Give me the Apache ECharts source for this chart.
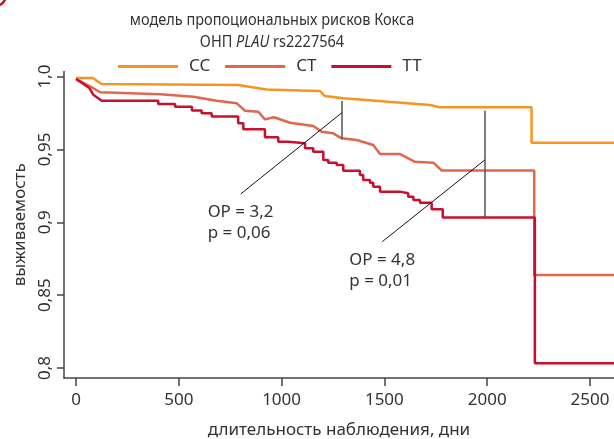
<!DOCTYPE html>
<html lang="ru">
<head>
<meta charset="UTF-8" />
<title>модель пропоциональных рисков Кокса</title>
<script src="https://cdn.jsdelivr.net/npm/echarts@6/dist/echarts.min.js"></script>
<style>
  html, body { margin: 0; padding: 0; background: #fff; }
  #survivalChart { width: 614px; height: 439px; }
</style>
</head>
<body>
<div id="survivalChart"></div>
<script>
  // значения: день наблюдения / выживаемость
  var ccDays = [0, 81, 125, 788, 927, 1089, 1187, 1211, 1300, 1722, 1770, 2216, 2216, 2617];
  var ccSurv = [0.999, 0.999, 0.9949, 0.9942, 0.9911, 0.9904, 0.9900, 0.9866, 0.9850, 0.9805, 0.9789, 0.9789, 0.9546, 0.9546];

  var ctDays = [0, 68, 117, 409, 571, 684, 782, 822, 887, 919, 963, 1041, 1154, 1195, 1251, 1292, 1365, 1446, 1479, 1576, 1649, 1738, 1779, 2229, 2229, 2617];
  var ctSurv = [0.9983, 0.9933, 0.9892, 0.9878, 0.9861, 0.9834, 0.9816, 0.9765, 0.9758, 0.9706, 0.9720, 0.9683, 0.9660, 0.9621, 0.9610, 0.9576, 0.9564, 0.9530, 0.9468, 0.9468, 0.9415, 0.9409, 0.9355, 0.9355, 0.8638, 0.8638];

  // TT - ступенчатая кривая (значение после каждого события), начало - плавное
  var ttDays = [0, 65, 84, 125, 400, 482, 564, 611, 660, 789, 814, 919, 984, 1033, 1114, 1154, 1203, 1227, 1268, 1300, 1381, 1397, 1430, 1446, 1479, 1576, 1616, 1641, 1673, 1730, 1784, 2232, 2617];
  var ttSurv = [0.9983, 0.9921, 0.9875, 0.9834, 0.9811, 0.9793, 0.9767, 0.9748, 0.9726, 0.9679, 0.9638, 0.9583, 0.9553, 0.9542, 0.9507, 0.9484, 0.9427, 0.9409, 0.9393, 0.9354, 0.9324, 0.9290, 0.9271, 0.9244, 0.9210, 0.9199, 0.9175, 0.9153, 0.9134, 0.9089, 0.9033, 0.8032, 0.8032];
  var ttSmoothCount = 4;

  var seriesNames = ['CC', 'CT', 'TT'];
  var seriesColors = ['#f7941d', '#e0674c', '#c8102e'];

  var xTicks = [0, 500, 1000, 1500, 2000, 2500];
  var yTicks = [0.8, 0.85, 0.9, 0.95, 1.0];
  var yTickLabels = ['0,8', '0,85', '0,9', '0,95', '1,0'];

  // отношение рисков: вертикаль [день, от, до], выноска [день1, S1, день2, S2]
  var orVertical = [[1294, 0.9832, 0.9569], [1988, 0.9765, 0.9034]];
  var orDiagonal = [[801, 0.9194, 1294, 0.9752], [1490, 0.8867, 1988, 0.9427]];
  var orLabels = ['ОР = 3,2\np = 0,06', 'ОР = 4,8\np = 0,01'];

  var fontName = '"Noto Sans", sans-serif';
  var textColor = '#333333';

  function pairs(days, surv) {
    var out = [];
    for (var i = 0; i < days.length; i++) out.push([days[i], surv[i]]);
    return out;
  }

  // ступеньки: перед каждым событием держим прежнее значение
  function stepPairs(days, surv, smooth) {
    var out = [];
    for (var i = 0; i < days.length; i++) {
      if (i >= smooth) out.push([days[i], surv[i - 1]]);
      out.push([days[i], surv[i]]);
    }
    return out;
  }

  var chartEl = document.getElementById('survivalChart');
  var chart = echarts.init(chartEl);

  var markData = [];
  orVertical.forEach(function (v) {
    markData.push([
      { coord: [v[0], v[1]], lineStyle: { color: '#555555', width: 1.5, type: 'solid' } },
      { coord: [v[0], v[2]] }
    ]);
  });
  orDiagonal.forEach(function (d) {
    markData.push([
      { coord: [d[0], d[1]], lineStyle: { color: '#111111', width: 1, type: 'solid' } },
      { coord: [d[2], d[3]] }
    ]);
  });

  var curves = [pairs(ccDays, ccSurv), pairs(ctDays, ctSurv), stepPairs(ttDays, ttSurv, ttSmoothCount)];
  var lineSeries = curves.map(function (data, i) {
    return {
      name: seriesNames[i],
      type: 'line',
      data: data,
      symbol: 'none',
      lineStyle: { width: 2.5, color: seriesColors[i] },
      itemStyle: { color: seriesColors[i] },
      z: 2 + i
    };
  });

  lineSeries.push({
    name: 'annot',
    type: 'line',
    data: [],
    symbol: 'none',
    z: 10,
    markLine: {
      silent: true,
      symbol: 'none',
      animation: false,
      label: { show: false },
      data: markData
    }
  });

  var chartOption = {
    animation: false,
    grid: { left: 64, right: 0, top: 71.5, bottom: 61, containLabel: false, outerBoundsMode: 'none' },
    legend: {
      data: seriesNames,
      left: 113,
      top: 53,
      icon: 'rect',
      itemWidth: 60,
      itemHeight: 3,
      itemGap: 15,
      selectedMode: false,
      textStyle: { color: textColor, fontSize: 17, fontFamily: fontName, padding: [0, 0, 0, 6] }
    },
    xAxis: {
      type: 'value',
      min: -58.4,
      max: 2617,
      name: 'длительность наблюдения, дни',
      nameLocation: 'middle',
      nameGap: 44,
      nameTextStyle: { color: textColor, fontSize: 17, fontFamily: fontName },
      axisLine: { show: true, onZero: false, lineStyle: { color: '#444', width: 1.5 } },
      axisTick: { show: true, length: 8, customValues: xTicks, lineStyle: { color: '#444', width: 1.5 } },
      axisLabel: {
        customValues: xTicks,
        color: textColor,
        fontSize: 17,
        fontFamily: fontName,
        margin: 14,
        formatter: function (val) { return String(val); }
      },
      splitLine: { show: false }
    },
    yAxis: {
      type: 'value',
      min: 0.79314,
      max: 1.00343,
      name: 'выживаемость',
      nameLocation: 'middle',
      nameGap: 34,
      nameTextStyle: { color: textColor, fontSize: 17, fontFamily: fontName },
      axisLine: { show: true, onZero: false, lineStyle: { color: '#444', width: 1.5 } },
      axisTick: { show: true, length: 7, customValues: yTicks, lineStyle: { color: '#444', width: 1.5 } },
      axisLabel: {
        customValues: yTicks,
        rotate: 90,
        color: textColor,
        fontSize: 17,
        fontFamily: fontName,
        margin: 10,
        formatter: function (val) {
          for (var i = 0; i < yTicks.length; i++) {
            if (Math.abs(yTicks[i] - val) < 1e-6) return yTickLabels[i];
          }
          return '';
        }
      },
      splitLine: { show: false }
    },
    series: lineSeries
  };

  chart.setOption(chartOption);

  // подписи: заголовок, метки ОР, угол панели
  var graphics = [
    {
      type: 'text',
      x: 272,
      y: 20,
      scaleX: 0.88,
      style: {
        text: '{a|модель пропоциональных рисков Кокса}',
        align: 'center',
        verticalAlign: 'middle',
        rich: { a: { fontSize: 16.5, fontFamily: fontName, fill: textColor } }
      }
    },
    {
      type: 'text',
      x: 272,
      y: 42,
      scaleX: 0.88,
      style: {
        text: '{a|ОНП }{i|PLAU}{a| rs2227564}',
        align: 'center',
        verticalAlign: 'middle',
        rich: {
          a: { fontSize: 16.5, fontFamily: fontName, fill: textColor },
          i: { fontSize: 16.5, fontFamily: fontName, fontStyle: 'italic', fill: textColor }
        }
      }
    },
    {
      type: 'circle',
      shape: { cx: -5, cy: -5, r: 11 },
      style: { fill: 'none', stroke: '#c8102e', lineWidth: 2.5 }
    }
  ];

  orDiagonal.forEach(function (d, i) {
    var p = chart.convertToPixel({ gridIndex: 0 }, [d[0], d[1]]);
    graphics.push({
      type: 'text',
      x: p[0] - 33,
      y: p[1] + 8,
      style: {
        text: orLabels[i],
        fontSize: 17,
        lineHeight: 21,
        fontFamily: fontName,
        fill: textColor,
        align: 'left',
        verticalAlign: 'top'
      }
    });
  });

  chart.setOption({ graphic: graphics });
</script>
</body>
</html>
